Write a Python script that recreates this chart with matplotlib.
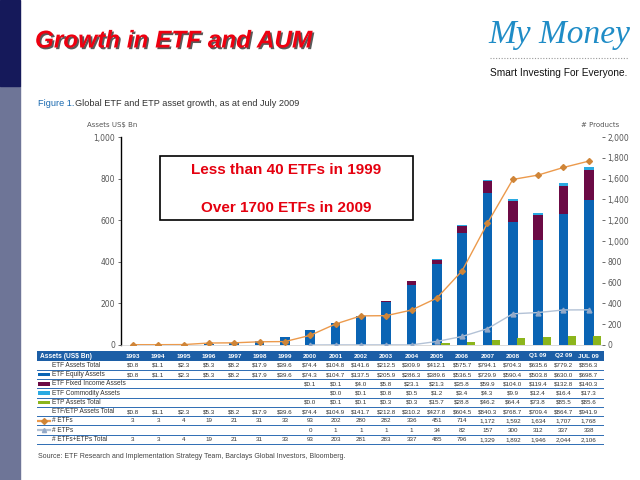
import numpy as np
import matplotlib.pyplot as plt
import matplotlib.patheffects as pe
from matplotlib.patches import Rectangle
from matplotlib.lines import Line2D

nan = np.nan

periods = ["1993", "1994", "1995", "1996", "1997", "1998", "1999", "2000", "2001", "2002",
           "2003", "2004", "2005", "2006", "2007", "2008", "Q1 09", "Q2 09", "JUL 09"]

equity = [0.8, 1.1, 2.3, 5.3, 8.2, 17.9, 39.6, 74.3, 104.7, 137.5,
          205.9, 286.3, 389.6, 536.5, 729.9, 590.4, 503.8, 630.0, 698.7]
fixed_income = [nan, nan, nan, nan, nan, nan, nan, 0.1, 0.1, 4.0,
                5.8, 23.1, 21.3, 35.8, 59.9, 104.0, 119.4, 132.8, 140.3]
commodity = [nan, nan, nan, nan, nan, nan, nan, nan, 0.0, 0.1,
             0.8, 0.5, 1.2, 3.4, 4.3, 9.9, 12.4, 16.4, 17.3]
etp_assets = [nan, nan, nan, nan, nan, nan, nan, 0.0, 0.1, 0.1,
              0.3, 0.3, 15.7, 28.8, 46.2, 64.4, 73.8, 85.5, 85.6]

n_etfs = [3, 3, 4, 19, 21, 31, 33, 93, 202, 280,
          282, 336, 451, 714, 1172, 1592, 1634, 1707, 1768]
n_etps = [nan, nan, nan, nan, nan, nan, nan, 0, 1, 1,
          1, 1, 34, 82, 157, 300, 312, 337, 338]

c_equity = "#0a64b4"
c_fixed = "#6b0a45"
c_comm = "#2aaae2"
c_etp = "#8cb51c"
c_etf_line = "#ec9a4c"
c_etf_mark = "#cf8538"
c_etp_line = "#b3c2d6"
c_etp_mark = "#93a9c8"
c_navy = "#1c5ea6"

W, H = 640, 480


def fx(px):
    return px / W


def fy(py):
    return 1 - py / H


fig = plt.figure(figsize=(6.4, 4.8), dpi=100)
fig.patch.set_facecolor("white")

# left side strip
fig.patches.append(Rectangle((0, fy(480)), fx(20), fy(86) - fy(480), transform=fig.transFigure,
                             color="#6e7597", zorder=0))
fig.patches.append(Rectangle((0, fy(86)), fx(20), 86 / H, transform=fig.transFigure,
                             color="#15195a", zorder=0))

# title
fig.text(fx(35), fy(41), "Growth in ETF and AUM", fontsize=17.5, fontweight="bold",
         fontstyle="italic", color="#ee0010", family="Liberation Sans", va="center",
         path_effects=[pe.SimplePatchShadow(offset=(1.2, -1.2), shadow_rgbFace="#222222", alpha=0.75),
                       pe.Normal()])

# logo
fig.text(fx(559), fy(35), "My Money", fontsize=24, fontstyle="italic", color="#1f8cc6",
         family="Liberation Serif", ha="center", va="center")
fig.lines.append(Line2D([fx(490), fx(628)], [fy(58), fy(58)], transform=fig.transFigure,
                        color="#9a9a9a", lw=0.8, ls=(0, (1, 1.5))))
fig.text(fx(559), fy(73), "Smart Investing For Everyone.", fontsize=7.3, color="#111111",
         family="Liberation Sans", ha="center", va="center")

# caption
fig.text(fx(38), fy(103), "Figure 1.", fontsize=6.6, color="#1a6ab0", va="center",
         family="Liberation Sans")
fig.text(fx(75), fy(103), "Global ETF and ETP asset growth, as at end July 2009", fontsize=6.6,
         color="#333333", va="center", family="Liberation Sans")

# chart
ax_left, ax_right, ax_top, ax_bot = 121, 601.7, 137, 345
ax = fig.add_axes([fx(ax_left), fy(ax_bot), (ax_right - ax_left) / W, (ax_bot - ax_top) / H])
ax2 = ax.twinx()

x = np.arange(len(periods))
step = 25.32
first_px = 133
ax.set_xlim((ax_left - first_px) / step, (ax_right - first_px) / step)
ax.set_ylim(0, 1000)
ax2.set_ylim(0, 2000)

eq = np.array(equity)
fi = np.nan_to_num(np.array(fixed_income))
cm_ = np.nan_to_num(np.array(commodity))
bw = 0.38
ax.bar(x, eq, width=bw, color=c_equity, zorder=2)
ax.bar(x, fi, width=bw, bottom=eq, color=c_fixed, zorder=2)
ax.bar(x, cm_, width=bw, bottom=eq + fi, color=c_comm, zorder=2)

ax2.bar(x + 0.34, np.nan_to_num(np.array(etp_assets)), width=0.32, color=c_etp, zorder=2)
ax2.plot(x, n_etps, color=c_etp_line, lw=1, marker="^", ms=3.5, mfc=c_etp_mark, mec=c_etp_mark, zorder=3)
ax2.plot(x, n_etfs, color=c_etf_line, lw=1, marker="D", ms=3, mfc=c_etf_mark,
         mec=c_etf_mark, zorder=4)

ax.set_yticks([0, 200, 400, 600, 800, 1000])
ax.set_yticklabels(["0", "200", "400", "600", "800", "1,000"])
ax2.set_yticks(range(0, 2001, 200))
ax2.set_yticklabels([f"{v:,}" for v in range(0, 2001, 200)])
for a in (ax, ax2):
    a.tick_params(axis="y", labelsize=5.5, labelcolor="#555555", length=2, width=0.6,
                  color="#555555", pad=2)
    a.set_xticks([])
    for s in ("top", "right", "bottom"):
        a.spines[s].set_visible(False)
ax2.spines["left"].set_visible(False)
ax.spines["left"].set_linewidth(1.0)
ax.spines["left"].set_color("black")
ax.spines["bottom"].set_visible(True)
ax.spines["bottom"].set_color("#cccccc")
ax.spines["bottom"].set_linewidth(0.5)
ax.set_facecolor("none")

fig.text(fx(112), fy(125), "Assets US$ Bn", fontsize=5, color="#555555", ha="center", va="center")
fig.text(fx(600), fy(125), "# Products", fontsize=5, color="#555555", ha="center", va="center")

# annotation box
fig.patches.append(Rectangle((fx(160), fy(220)), (413 - 160) / W, (220 - 156) / H,
                             transform=fig.transFigure, facecolor="white", edgecolor="black",
                             lw=1.2, zorder=5))
fig.text(fx(286.5), fy(169.5), "Less than 40 ETFs in 1999", fontsize=11, fontweight="bold",
         color="#e5000f", ha="center", va="center", family="Liberation Sans", zorder=6)
fig.text(fx(286.5), fy(207.5), "Over 1700 ETFs in 2009", fontsize=11, fontweight="bold",
         color="#e5000f", ha="center", va="center", family="Liberation Sans", zorder=6)

# table
t_left, t_right, t_top, t_bot = 37, 604, 351, 445
tax = fig.add_axes([fx(t_left), fy(t_bot), (t_right - t_left) / W, (t_bot - t_top) / H])
tax.set_xlim((t_left - first_px) / step, (t_right - first_px) / step)
tax.set_ylim(t_bot - t_top, 0)
tax.axis("off")

x0, x1 = tax.get_xlim()
label_x = (52 - first_px) / step
sw_a, sw_b = (38 - first_px) / step, (50 - first_px) / step

tax.add_patch(Rectangle((x0, 0), x1 - x0, 10, color=c_navy, lw=0))
tax.text((40 - first_px) / step, 5, "Assets (US$ Bn)", fontsize=4.8, fontweight="bold",
         color="white", va="center", family="Liberation Sans")
for i, p in enumerate(periods):
    tax.text(i, 5, p, fontsize=4.6, fontweight="bold", color="white", va="center", ha="center",
             family="Liberation Sans")

etf_total = eq + fi + cm_
all_total = etf_total + np.nan_to_num(np.array(etp_assets))
n_total = np.array(n_etfs) + np.nan_to_num(np.array(n_etps))


def money(vals):
    return ["" if np.isnan(v) else f"${v:,.1f}" for v in vals]


def count(vals):
    return ["" if np.isnan(v) else f"{int(v):,}" for v in vals]


rows = [
    ("ETF Assets Total", None, money(etf_total)),
    ("ETF Equity Assets", ("bar", c_equity), money(equity)),
    ("ETF Fixed Income Assets", ("bar", c_fixed), money(fixed_income)),
    ("ETF Commodity Assets", ("bar", c_comm), money(commodity)),
    ("ETP Assets Total", ("bar", c_etp), money(etp_assets)),
    ("ETF/ETP Assets Total", None, money(all_total)),
    ("# ETFs", ("line", c_etf_line, c_etf_mark, "D"), count(n_etfs)),
    ("# ETPs", ("line", c_etp_line, c_etp_mark, "^"), count(n_etps)),
    ("# ETFs+ETPs Total", None, count(n_total)),
]

row_h = 9.25
for r, (label, key, vals) in enumerate(rows):
    yc = 14.3 + r * row_h
    tax.text(label_x, yc, label, fontsize=4.7, color="#333333", va="center", family="Liberation Sans")
    if key is not None and key[0] == "bar":
        tax.add_patch(Rectangle((sw_a, yc - 1.7), sw_b - sw_a, 3.4, color=key[1], lw=0))
    elif key is not None:
        tax.plot([sw_a, sw_b], [yc, yc], color=key[1], lw=1.6)
        tax.plot([(sw_a + sw_b) / 2], [yc], marker=key[3], ms=3, color=key[2])
    for i, v in enumerate(vals):
        tax.text(i, yc, v, fontsize=4.5, color="#333333", va="center", ha="center",
                 family="Liberation Sans")
    tax.plot([x0, x1], [yc + row_h / 2, yc + row_h / 2], color="#2d6cb3", lw=0.7)

fig.text(fx(38), fy(457), "Source: ETF Research and Implementation Strategy Team, Barclays Global Investors, Bloomberg.",
         fontsize=5, color="#444444", va="center", family="Liberation Sans")

fig.savefig("out.png", dpi=100)
